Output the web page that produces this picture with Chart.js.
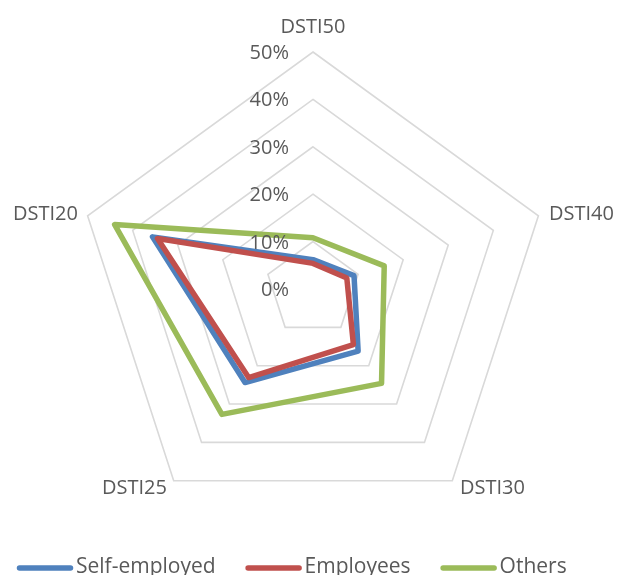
<!DOCTYPE html>
<html>
<head>
<meta charset="utf-8">
<script src="https://cdn.jsdelivr.net/npm/chart.js@4/dist/chart.umd.min.js"></script>
<style>
  html, body { margin: 0; padding: 0; background: #fff; }
  #radar { display: block; }
</style>
</head>
<body>
<canvas id="radar" width="617" height="575"></canvas>
<script>
// DSTI shares by borrower type, in percent
const categories = ['DSTI50', 'DSTI40', 'DSTI30', 'DSTI25', 'DSTI20'];
const selfEmployed = [6.2, 9.1, 16.2, 24.4, 35.6];
const employees = [5.4, 7.5, 14.5, 23.1, 34.5];
const others = [10.8, 15.8, 24.6, 32.7, 44.0];
const tickValues = [0, 10, 20, 30, 40, 50];

const textColor = '#595959';
const labelFont = '20px "Open Sans"';
const legendFont = '21px "Open Sans"';

// Office-style labels: values left of the vertical axis, names outside the rim, legend row at the bottom
const officeLabels = {
    id: 'officeLabels',
    afterDraw(chart) {
        const ctx = chart.ctx;
        const r = chart.scales.r;
        ctx.save();
        ctx.fillStyle = textColor;
        ctx.textBaseline = 'alphabetic';
        ctx.font = labelFont;

        ctx.textAlign = 'right';
        tickValues.forEach(v => {
            const y = r.yCenter - r.getDistanceFromCenterForValue(v);
            ctx.fillText(v + '%', r.xCenter - 24, y + 7);
        });

        categories.forEach((name, i) => {
            const p = r.getPointPosition(i, r.drawingArea + 8);
            const s = Math.sin(r.getIndexAngle(i));
            if (Math.abs(s) < 0.05) {
                ctx.textAlign = 'center';
                ctx.fillText(name, p.x, p.y - 11);
            } else {
                ctx.textAlign = s > 0 ? 'left' : 'right';
                ctx.fillText(name, p.x + (s > 0 ? 3 : -2), p.y + 7);
            }
        });

        // legend
        ctx.font = legendFont;
        ctx.textAlign = 'left';
        ctx.lineCap = 'round';
        ctx.lineWidth = 5.5;
        let x = 17;
        chart.data.datasets.forEach(ds => {
            ctx.strokeStyle = ds.borderColor;
            ctx.beginPath();
            ctx.moveTo(x + 2.5, 568);
            ctx.lineTo(x + 53.5, 568);
            ctx.stroke();
            ctx.fillText(ds.label, x + 59, 573);
            x += 59 + ctx.measureText(ds.label).width + 30;
        });
        ctx.restore();
    }
};

new Chart(document.getElementById('radar'), {
    type: 'radar',
    data: {
        labels: categories,
        datasets: [
            { label: 'Self-employed', data: selfEmployed, borderColor: '#4F81BD', order: 2 },
            { label: 'Employees', data: employees, borderColor: '#C0504D', order: 1 },
            { label: 'Others', data: others, borderColor: '#9BBB59', order: 0 }
        ]
    },
    options: {
        responsive: false,
        animation: false,
        devicePixelRatio: 1,
        elements: {
            line: { borderWidth: 5.5, fill: false, tension: 0, borderJoinStyle: 'round' },
            point: { radius: 0, hoverRadius: 0 }
        },
        plugins: {
            legend: { display: false },
            tooltip: { enabled: false }
        },
        scales: {
            r: {
                min: 0,
                max: 50,
                ticks: { stepSize: 10, display: false },
                grid: { color: '#D9D9D9', lineWidth: 1.6 },
                angleLines: { display: false },
                pointLabels: { display: false },
                // fixed centre and radius so the rim sits where the labels expect it
                afterFit: scale => {
                    scale.xCenter = 313;
                    scale.yCenter = 289;
                    scale.drawingArea = 237;
                }
            }
        }
    },
    plugins: [officeLabels]
});
</script>
</body>
</html>
